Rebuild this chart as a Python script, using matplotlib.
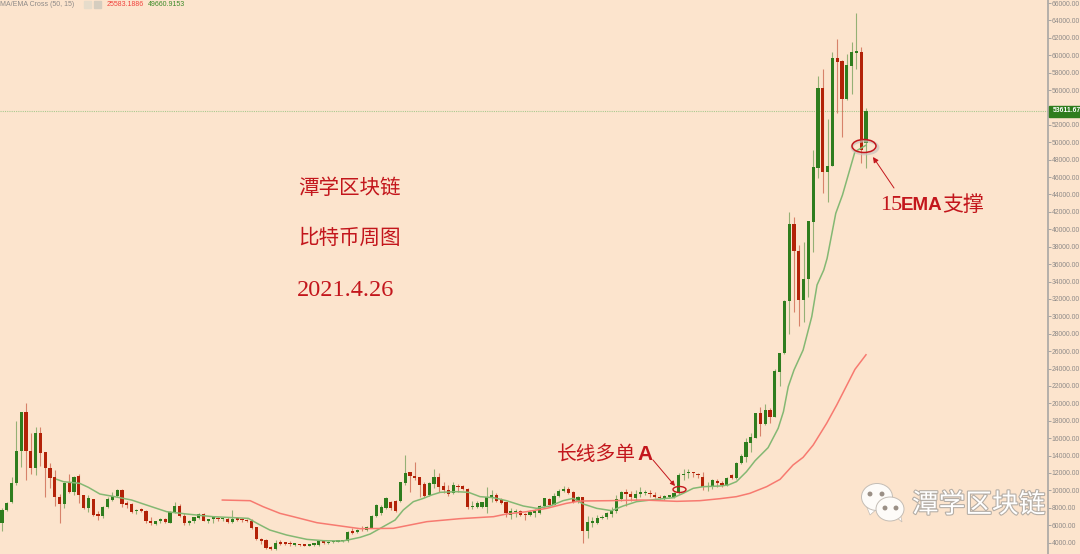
import matplotlib
matplotlib.use('Agg')
import matplotlib.pyplot as plt
import matplotlib.patheffects as pe
from matplotlib.patches import Ellipse, Polygon
import numpy as np

# weekly candles
opens = [6211,7743,8624,10807,14522,19003,14560,12531,16629,14446,
 12569,11496,9275,8394,10884,9811,11650,9428,7973,9045,
 7169,7054,8088,8930,9390,10041,8432,8394,7590,7743,
 7666,6441,6134,6441,6709,6288,7475,8203,7092,6211,
 6441,6786,7283,6517,6671,6824,6671,6671,6403,6709,
 6632,6594,6517,5751,4449,4296,3453,3224,3990,3951,
 3913,3760,3798,3722,3645,3760,3760,4143,3913,4066,
 4105,4143,4181,5253,5177,
 5715,5447,5715,7056,7362,7936,8703,8779,8817,10809,
 12073,11652,11498,10694,9469,10732,11575,10503,10043,9660,
 10541,10464,10158,8090,8051,8051,8051,9162,9469,8894,
 8626,7209,7515,7668,7247,7209,7439,7362,8205,9047,
 8358,9353,9966,10120,9813,8779,9277,5332,6290,6290,
 6826,6902,7285,7630,8971,9852,9545,9085,9583,9660,
 9737,9430,9277,9124,9277,9239,9660,11767,11958,12035,
 11805,11575,10349,10426,11115,10886,10618,11767,11385,13185,
 13874,15483,16057,18853,17589,19236,18470,23641,25747,31798,
 40608,37505,31875,34250,40876,47080,56195,46544,47310,59719,
 59336,54970,58800,60294,60332,49876]
closes = [7743,8586,10807,14522,19003,14522,12531,16629,14331,12531,
 11458,9198,8394,10884,9811,11573,9467,7973,9084,7130,
 7092,8126,9007,9390,10041,8394,8356,7552,7666,7666,
 6441,6211,6441,6671,6326,7552,8203,7092,6211,6441,
 6900,7245,6517,6594,6900,6671,6747,6403,6709,6632,
 6556,6479,5675,4449,4219,3415,3224,3913,3875,3875,
 3836,3836,3722,3645,3760,3875,4143,3951,4066,4143,
 4181,4219,5215,5139,5407,
 5524,5753,7056,8320,8128,9162,7936,7668,10924,12035,
 11652,11460,10618,9392,10809,11498,10426,10043,9583,10618,
 10349,10158,8051,8205,8588,8626,9277,9469,8817,8588,
 7362,7630,7668,7132,7171,7477,7630,8205,9085,8358,
 9392,9966,10158,9737,8703,9200,5332,6328,6519,6864,
 6979,7362,7745,8971,9813,9545,9277,9545,9813,9852,
 9583,9239,9124,9353,9353,9660,11767,11881,12035,11958,
 11728,10426,10503,11192,10809,10580,11461,11385,13185,13951,
 15521,16172,18930,17589,19236,18470,23717,25747,31798,40608,
 37505,31875,34250,40952,47119,56195,46544,47310,59719,59260,
 54970,58877,60332,60409,49110,53611]
highs = [7935,8700,11496,18007,19003,20000,16552,17318,17318,14446,
 13105,12339,9581,11000,11880,11650,11841,9467,9467,9045,
 7628,8203,9275,9850,10118,10118,8815,8586,7820,7973,
 7743,6977,6517,6824,6824,7666,8624,8432,7360,6594,
 6977,7437,7437,6747,7054,6977,6900,6900,7743,6900,
 6786,6747,6671,5828,4526,4373,3607,4296,4296,4066,
 4219,3913,3875,3798,3836,3990,4296,4296,4143,4219,
 4258,4296,5368,5636,5522,
 5907,5907,7171,8435,8320,9277,8817,8894,11000,14065,
 12150,13222,11575,11000,11000,12418,11958,11000,10618,11000,
 10694,10618,10235,8817,8817,8703,10426,10043,9660,9085,
 8703,7936,7898,7745,7362,7745,7822,8320,9162,9085,
 9660,10120,10503,10349,9966,9353,9277,7056,6902,7171,
 7171,7554,8051,9469,9966,10120,9928,10043,10349,10043,
 10043,9813,9469,9469,9469,9813,11958,12418,12418,12150,
 11958,12150,11000,11268,11268,11116,11576,11882,13300,14180,
 16057,16555,18930,19542,19925,19428,23909,25747,31875,41987,
 41450,38200,38578,40952,49110,57613,58379,52672,60409,61864,
 59451,60140,61481,64890,60983,53898]
lows = [5368,7666,8509,10615,12722,11190,11841,11765,12799,9275,
 10232,8203,6211,7935,9735,9467,8509,7820,7552,7054,
 6594,6786,7935,8815,9275,8126,7935,7360,7283,7513,
 6288,5981,5981,6288,6211,6211,7360,6977,6058,6058,
 6288,6671,6441,6288,6211,6441,6517,6288,6288,6441,
 6364,6364,5522,4296,3836,3300,3147,3147,3683,3760,
 3645,3645,3645,3568,3568,3645,3645,3836,3836,3990,
 4028,4066,4105,4985,5062,
 5332,5332,5638,6902,7209,7822,7745,7553,8703,10618,
 9852,11192,9277,9277,9392,10235,9852,9737,9392,9583,
 9852,10043,7822,7898,7936,7936,7362,8703,8703,8435,
 6902,6673,6979,7056,6596,7056,6979,7285,8051,8281,
 8281,9277,9813,9583,8588,8588,3992,4566,5830,6098,
 6673,6673,6902,7439,8817,8205,8817,8894,9277,9469,
 9277,9124,8971,8894,9124,9124,9583,11192,11384,11575,
 11384,10043,9966,10120,10426,10427,10504,11270,11270,13031,
 13300,14449,15980,16287,17512,17704,18393,22032,25670,27968,
 30535,28888,29309,32258,37428,45855,44208,43097,47310,53323,
 50565,54855,55506,58417,47578,47080]

# the two moving averages, sampled at candle positions
ema_x = [11.4,12.8,16.2,18,20.4,23.5,27,30.1,34.3,38.5,44,51.3,53.4,55.8,59.3,63.5,67,71,74.6,
 76.7,78.8,81.9,83.6,85.7,87.8,89.5,91.3,94.7,97.2,99.6,102.4,105.1,108.6,111.4,114.2,116.9,119,
 121.1,123.9,127,129.4,132.2,136.4,139.9,141.9,144,146.1,149.6,151.3,153,155.1,156.9,159.6,161.7,
 162.8,163.8,165,166.9,168.7,169.8,171.2,171.9,173.7,175.1,177.7,180]
ema_y = [11267,11000,10807,10347,9581,9275,8892,8318,7552,7283,6977,6786,6134,5445,4871,4373,4219,4181,4602,
 4987,5638,6596,7745,8703,9085,9469,9775,9852,9775,9277,9162,8817,8205,7936,8205,8817,9085,
 8435,7936,7668,8205,8703,8971,9162,9660,10235,10426,10503,10618,11001,12150,13414,14908,17130,
 19045,21917,23832,26130,29960,33600,35322,36663,41833,43940,48919,49661]
ma_x = [45.9,51.7,54.4,57.9,60.7,65.6,74.6,81.5,88.5,95.4,102.4,105.1,109.3,113.5,117.6,120.4,126.7,
 133.6,140.6,145.4,149.6,153,155.8,159.3,162.1,164.8,166.9,169,171.8,173.9,177.7,180]
ma_y = [8892,8815,8126,7360,6977,6288,5600,5638,6405,6749,6979,7285,7553,7936,8511,8779,8817,
 8894,8741,8817,9048,9278,9661,10427,11270,12916,13797,15214,17704,19810,23909,25583]

# 54000 sits behind the price tag in the original
price_ticks = [t for t in range(4000, 66001, 2000) if t != 54000]
last_price = 53611.67

bg = '#fce4cd'
green = '#2f7d1e'
red = '#b32208'
ann = '#c3161c'

fig = plt.figure(figsize=(10.8, 5.54), dpi=100, facecolor=bg)
ax = fig.add_axes([0, 0, 1048/1080, 1], facecolor=bg)

x = np.arange(len(opens))
o, c, h, l = map(np.array, (opens, closes, highs, lows))
up = c >= o
col = np.where(up, green, red)

ax.vlines(x, l, h, colors=col, linewidth=0.8, alpha=0.5, zorder=2)
ax.bar(x, np.maximum(np.abs(c - o), 170), bottom=np.minimum(o, c), width=0.68, color=col, linewidth=0, zorder=3)

ax.plot(ema_x, ema_y, color='#84b873', linewidth=1.1, zorder=4)
ax.plot(ma_x, ma_y, color='#f77a70', linewidth=1.1, zorder=4)

ax.axhline(last_price, color='#a9c98f', linewidth=0.8, linestyle=(0, (1, 1)), zorder=1)

ax.set_xlim(-2/4.8, 1046/4.8)
ax.set_ylim(2690, 66345)
ax.xaxis.set_visible(False)
ax.yaxis.tick_right()
ax.set_yticks(price_ticks)
ax.set_yticklabels(['%.2f' % t for t in price_ticks], fontsize=4.9, color='#8e8a88', family='Liberation Sans')
ax.tick_params(axis='y', length=2, width=0.6, color='#9a9a9a', pad=0.5)
for s in ['top', 'left', 'bottom']:
    ax.spines[s].set_visible(False)
ax.spines['right'].set_color('#a8a6a4')
ax.spines['right'].set_linewidth(1.2)

# overlay in picture pixels for the hand drawn notes
ov = fig.add_axes([0, 0, 1, 1])
ov.set_xlim(0, 1080)
ov.set_ylim(554, 0)
ov.axis('off')

cjk = ['Noto Sans CJK SC', 'DejaVu Sans']
ser = 'Liberation Serif'

# price tag
ov.add_patch(plt.Rectangle((1049, 105.5), 31, 11, color='#2f7d1e', zorder=5))
ov.text(1052.5, 111, '53611.67', fontsize=4.9, color='white', fontweight='bold', family='Liberation Sans', va='center', zorder=6)

# header
ov.text(0, 5, 'MA/EMA Cross (50, 15)', fontsize=5, color='#8e8a88', family='Liberation Sans', va='center')
ov.add_patch(plt.Rectangle((84, 1), 7, 7, color='#e6dccb'))
ov.add_patch(plt.Rectangle((94, 1), 7, 7, color='#d5cdbf'))
ov.text(107, 5, '25583.1886', fontsize=5, color='#f0423c', family='Liberation Sans', va='center')
ov.text(148, 5, '49660.9153', fontsize=5, color='#3c8a28', family='Liberation Sans', va='center')

# notes on the left
ov.text(298, 188, '潭学区块链', fontsize=14.8, color=ann, family=cjk, fontweight='light', va='center')
ov.text(298, 238, '比特币周图', fontsize=14.8, color=ann, family=cjk, fontweight='light', va='center')
ov.text(297, 291, '2021.4.26', fontsize=17.5, color=ann, family=ser, va='center')

ov.text(557, 455, '长线多单', fontsize=14.2, color=ann, family=cjk, fontweight='light', va='center')
ov.text(637, 455, 'A', fontsize=15, color=ann, family='Liberation Sans', fontweight='bold', va='center')

ov.text(880, 205, '15', fontsize=16, color=ann, family=ser, va='center')
ov.text(901, 205, 'EMA', fontsize=13.5, color=ann, family='Liberation Sans', fontweight='bold', va='center')
ov.text(942, 205, '支撑', fontsize=15, color=ann, family=cjk, fontweight='light', va='center')

# circles and arrows
ov.add_patch(Ellipse((865, 147.5), 26, 13, fill=False, edgecolor='#c9c4bc', linewidth=2, alpha=0.7, zorder=6))
ov.add_patch(Ellipse((864, 146), 24, 13, fill=False, edgecolor=ann, linewidth=1.1, zorder=7))
ov.add_patch(Ellipse((679.5, 489.5), 13, 6, fill=False, edgecolor=ann, linewidth=1, zorder=7))
ov.annotate('', xy=(873, 157), xytext=(894, 188), zorder=7,
            arrowprops=dict(arrowstyle='-|>', color=ann, linewidth=0.7, mutation_scale=8, shrinkA=0, shrinkB=0))
ov.annotate('', xy=(675, 486), xytext=(653, 460), zorder=7,
            arrowprops=dict(arrowstyle='-|>', color=ann, linewidth=0.7, mutation_scale=7, shrinkA=0, shrinkB=0))

# wechat watermark
shadow = [pe.withStroke(linewidth=1.6, foreground='#b5aea6')]
ov.text(912, 505, '潭学区块链', fontsize=19.2, color='white', family=cjk, va='center', path_effects=shadow, zorder=8)
for cx, cy, w, hh, tail in [(877, 497, 31, 27, [(866, 505), (870, 515), (878, 508)]),
                            (890, 509, 28, 24, [(896, 517), (902, 522), (900, 512)])]:
    ov.add_patch(Polygon(tail, color='white', ec='#c4bdb5', linewidth=0.5, zorder=8))
    ov.add_patch(Ellipse((cx, cy), w, hh, facecolor='#fdfbf8', edgecolor='#c4bdb5', linewidth=0.7, zorder=8))
for ex, ey in [(870, 494), (882, 494), (885, 508), (896, 508)]:
    ov.add_patch(Ellipse((ex, ey), 3.5, 3.5, color='#9a8f85', zorder=9))

fig.savefig('out.png', dpi=100, facecolor=bg)
